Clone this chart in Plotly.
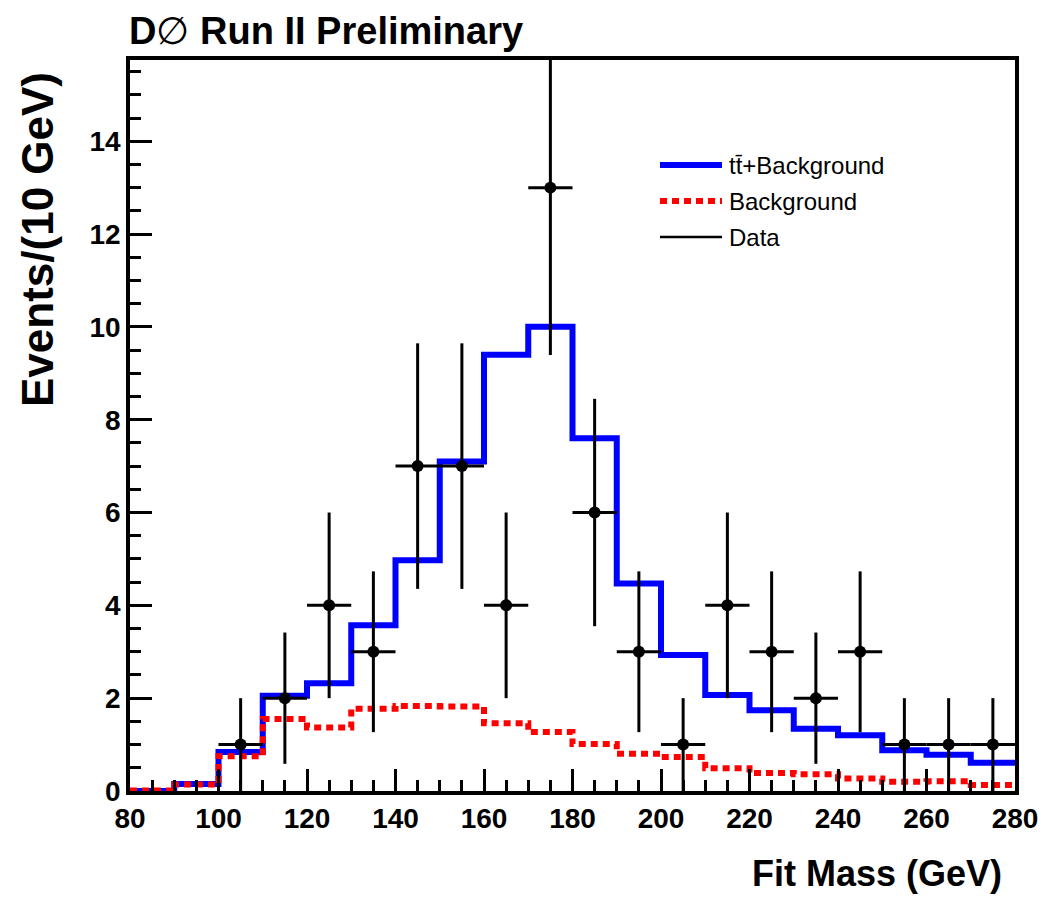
import numpy as np
import plotly.graph_objects as go

# Fit-mass histogram, 10 GeV bins from 80 to 280 GeV
bin_edges = list(range(80, 290, 10))
signal_plus_bkg = [0.0, 0.15, 0.84, 2.05, 2.32, 3.57, 4.97, 7.10, 9.40, 10.0,
                   7.60, 4.47, 2.93, 2.07, 1.74, 1.34, 1.20, 0.88, 0.78, 0.61]
background = [0.01, 0.14, 0.75, 1.55, 1.37, 1.77, 1.83, 1.82, 1.46, 1.27,
              1.01, 0.80, 0.73, 0.49, 0.39, 0.36, 0.27, 0.20, 0.21, 0.13]
data_counts = [0, 0, 1, 2, 4, 3, 7, 7, 4, 13, 6, 3, 1, 4, 3, 2, 3, 1, 1, 1]

x_ticks = [80, 100, 120, 140, 160, 180, 200, 220, 240, 260, 280]
y_ticks = [0, 2, 4, 6, 8, 10, 12, 14]

FONT = "Liberation Sans, Arial, Helvetica, sans-serif"

W, H = 1058, 897
L, R, T, B = 130, 1015, 60, 791  # plot frame in pixels


def px(x):
    return (x - L) / (R - L)


def py(y):
    return (B - y) / (B - T)


def step(values):
    # histogram outline: repeat last bin value up to the last edge
    return bin_edges, list(values) + [values[-1]]

fig = go.Figure()

sx, sy = step(signal_plus_bkg)
fig.add_trace(go.Scatter(x=sx, y=sy, mode="lines", line_shape="hv",
                         line=dict(color="#0000ff", width=6),
                         name="tt̄+Background", showlegend=False))

bx, by = step(background)
fig.add_trace(go.Scatter(x=bx, y=by, mode="lines", line_shape="hv",
                         line=dict(color="#ff0000", width=6, dash="7px,5px"),
                         name="Background", showlegend=False))

centers = [(bin_edges[i] + bin_edges[i + 1]) / 2 for i in range(len(data_counts))]
dx = [c for c, n in zip(centers, data_counts) if n > 0]
dy = [n for n in data_counts if n > 0]
derr = np.sqrt(dy)
fig.add_trace(go.Scatter(
    x=dx, y=dy, mode="markers",
    marker=dict(color="black", size=12),
    error_y=dict(type="data", array=derr, width=0, thickness=3, color="black"),
    error_x=dict(type="constant", value=5, width=0, thickness=3, color="black"),
    name="Data", showlegend=False))

# legend drawn as line samples plus labels
legend_rows = [
    ("tt̄+Background", 165, dict(color="#0000ff", width=6)),
    ("Background", 201, dict(color="#ff0000", width=6, dash="7px,5px")),
    ("Data", 237, dict(color="black", width=2.5)),
]
shapes = []
annotations = []
for label, ypix, ln in legend_rows:
    shapes.append(dict(type="line", xref="paper", yref="paper",
                       x0=px(660), x1=px(722), y0=py(ypix), y1=py(ypix), line=ln))
    annotations.append(dict(text=label, xref="paper", yref="paper",
                            x=px(727), y=py(ypix), xanchor="left", yanchor="middle",
                            showarrow=False,
                            font=dict(family=FONT, size=24, color="black")))

annotations.append(dict(text="<b>D</b>∅<b> Run II Preliminary</b>",
                        xref="paper", yref="paper", x=px(127), y=py(31),
                        xanchor="left", yanchor="middle", showarrow=False,
                        font=dict(family=FONT, size=38, color="black")))
annotations.append(dict(text="<b>Events/(10 GeV)</b>", xref="paper", yref="paper",
                        x=px(37), y=py(240), xanchor="center", yanchor="middle",
                        textangle=-90, showarrow=False,
                        font=dict(family=FONT, size=44, color="black")))
annotations.append(dict(text="<b>Fit Mass (GeV)</b>", xref="paper", yref="paper",
                        x=px(1004), y=py(874), xanchor="right", yanchor="middle",
                        showarrow=False,
                        font=dict(family=FONT, size=36, color="black")))

axis_common = dict(showgrid=False, zeroline=False, showline=True, mirror=True,
                   linecolor="black", linewidth=3.5, ticks="inside",
                   tickcolor="black", tickwidth=3, ticklen=22,
                   tickfont=dict(family=FONT, size=28, color="black", weight="bold"))

fig.update_layout(
    width=W, height=H, autosize=False,
    margin=dict(l=L, r=W - R, t=T, b=H - B, pad=0),
    paper_bgcolor="white", plot_bgcolor="white",
    showlegend=False,
    shapes=shapes, annotations=annotations,
    xaxis=dict(range=[80, 280], tickmode="array", tickvals=x_ticks,
               minor=dict(dtick=5, ticks="inside", ticklen=11, tickwidth=3,
                          tickcolor="black", showgrid=False),
               **axis_common),
    yaxis=dict(range=[0, 15.75], tickmode="array", tickvals=y_ticks,
               minor=dict(dtick=0.5, ticks="inside", ticklen=11, tickwidth=3,
                          tickcolor="black", showgrid=False),
               **axis_common),
)

fig.write_html("out.html")
